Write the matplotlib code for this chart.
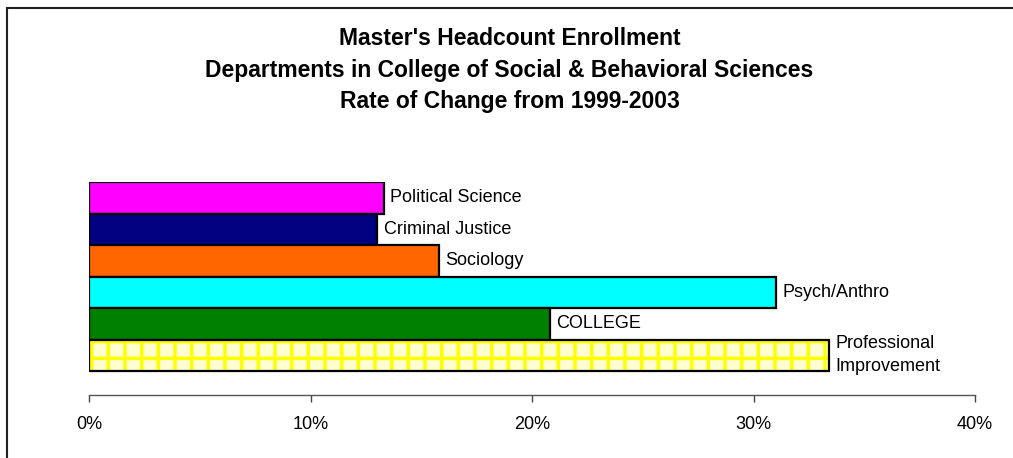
import matplotlib.pyplot as plt
import matplotlib.patches as mpatches
from matplotlib.ticker import FuncFormatter

plt.rcParams['font.family'] = ['Liberation Sans', 'DejaVu Sans']
plt.rcParams['hatch.linewidth'] = 2.5

# data (top to bottom as drawn)
departments = ["Political Science", "Criminal Justice", "Sociology",
               "Psych/Anthro", "COLLEGE", "Professional\nImprovement"]
rate_change = [13.3, 13.0, 15.8, 31.0, 20.8, 33.4]
bar_colors = ["#FF00FF", "#000080", "#FF6600", "#00FFFF", "#008000", "#FFFFD0"]
xticks = [0, 10, 20, 30, 40]

fig = plt.figure(figsize=(10.13, 4.58), dpi=100)
ax = fig.add_axes([0.0879, 0.1376, 0.8746, 0.465])

# outer chart border
fig.patches.append(mpatches.Rectangle((7 / 1013, -0.05), 1.2, 1 - 8 / 458 + 0.05,
                                      transform=fig.transFigure, fill=False,
                                      edgecolor='#222222', linewidth=1.5))

ypos = list(range(len(departments) - 1, -1, -1))
for y, val, col, name in zip(ypos, rate_change, bar_colors, departments):
    if name.startswith("Professional"):
        # checkered fill: yellow hatch on pale yellow, outline drawn separately
        ax.barh(y, val, height=1.0, color=col, edgecolor='#FFFF00', linewidth=0,
                hatch='+', zorder=2)
        ax.barh(y, val, height=1.0, fill=False, edgecolor='black', linewidth=1.6,
                zorder=2.5)
    else:
        ax.barh(y, val, height=1.0, color=col, edgecolor='black', linewidth=1.6,
                zorder=2)
    ax.text(val + 0.3, y, name, va='center', ha='left', fontsize=13,
            linespacing=1.45, zorder=3,
            bbox=dict(facecolor='white', edgecolor='none', pad=1.0))

ax.set_xlim(0, 40)
ax.set_ylim(-1.26, 5.5)
ax.set_xticks(xticks)
ax.xaxis.set_major_formatter(FuncFormatter(lambda v, p: f"{v:.0f}%"))
ax.set_yticks([])
ax.tick_params(axis='x', length=5, width=1, color='#444444', labelsize=13, pad=10)
for s in ['top', 'right', 'left']:
    ax.spines[s].set_visible(False)
ax.spines['bottom'].set_color('#555555')
ax.spines['bottom'].set_linewidth(1.0)

fig.text(0.503, 1 - 70 / 458,
         "Master's Headcount Enrollment\n"
         "Departments in College of Social & Behavioral Sciences\n"
         "Rate of Change from 1999-2003",
         ha='center', va='center', fontsize=16.5, fontweight='bold', linespacing=1.45)

fig.savefig("out.png", dpi=100)
